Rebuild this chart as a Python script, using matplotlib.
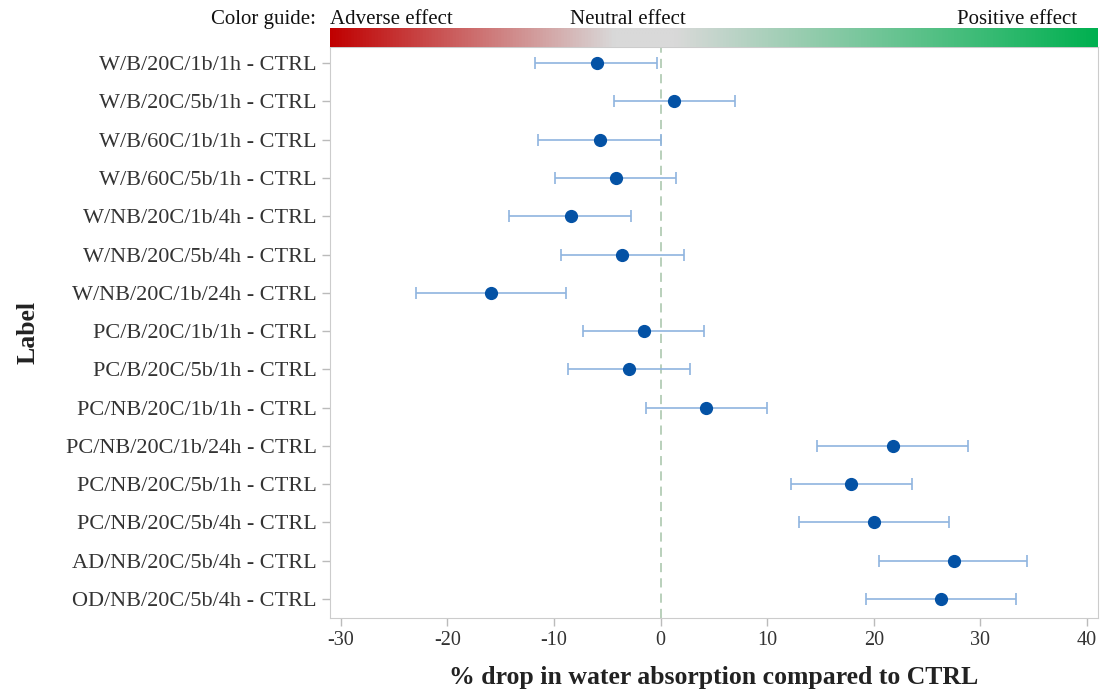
import numpy as np
import matplotlib
matplotlib.use("Agg")
import matplotlib.pyplot as plt
from matplotlib.colors import LinearSegmentedColormap

# data
labels = [
    "W/B/20C/1b/1h - CTRL",
    "W/B/20C/5b/1h - CTRL",
    "W/B/60C/1b/1h - CTRL",
    "W/B/60C/5b/1h - CTRL",
    "W/NB/20C/1b/4h - CTRL",
    "W/NB/20C/5b/4h - CTRL",
    "W/NB/20C/1b/24h - CTRL",
    "PC/B/20C/1b/1h - CTRL",
    "PC/B/20C/5b/1h - CTRL",
    "PC/NB/20C/1b/1h - CTRL",
    "PC/NB/20C/1b/24h - CTRL",
    "PC/NB/20C/5b/1h - CTRL",
    "PC/NB/20C/5b/4h - CTRL",
    "AD/NB/20C/5b/4h - CTRL",
    "OD/NB/20C/5b/4h - CTRL",
]
estimate = [-6.0, 1.3, -5.7, -4.2, -8.4, -3.6, -15.9, -1.6, -3.0, 4.3, 21.8, 17.9, 20.0, 27.5, 26.3]
lower = [-11.8, -4.4, -11.5, -9.9, -14.2, -9.3, -22.9, -7.3, -8.7, -1.4, 14.7, 12.2, 13.0, 20.5, 19.3]
upper = [-0.3, 7.0, 0.0, 1.4, -2.8, 2.2, -8.9, 4.1, 2.8, 10.0, 28.8, 23.6, 27.0, 34.4, 33.3]
xticks = [-30, -20, -10, 0, 10, 20, 30, 40]

plt.rcParams['font.family'] = ['Liberation Serif', 'DejaVu Serif']

fig = plt.figure(figsize=(11, 6.93), dpi=100)
ax = fig.add_axes([0.3, 0.108, 0.698, 0.824])
cax = fig.add_axes([0.3, 0.932, 0.698, 0.028])

est = np.array(estimate)
lo = np.array(lower)
hi = np.array(upper)
y = np.arange(len(labels))

ax.axvline(0, color='#a6c4a8', linestyle=(0, (6, 4)), linewidth=1.1, zorder=1)
ax.errorbar(est, y, xerr=[est - lo, hi - est], fmt='o', color='#0452a5',
            ecolor='#8fb4df', elinewidth=1.2, capsize=4, capthick=1.2,
            markersize=8.5, zorder=3)

ax.set_xlim(-31, 41)
ax.set_ylim(len(labels) - 0.5, -0.42)
ax.set_yticks(y)
ax.set_yticklabels(labels, fontsize=16, color='#333333')
ax.set_xticks(xticks)
ax.set_xticklabels([str(t) for t in xticks], fontsize=14.5, color='#333333')
ax.tick_params(axis='both', colors='#bbbbbb', length=6, width=1, labelcolor='#333333')
for s in ax.spines.values():
    s.set_color('#cccccc')
ax.set_xlabel('% drop in water absorption compared to CTRL', fontsize=18.5,
              fontweight='bold', labelpad=11, color='#222222')
ax.set_ylabel('Label', fontsize=18.5, fontweight='bold', color='#222222')
ax.yaxis.set_label_coords(-0.378, 0.5)

# colour guide bar
cmap = LinearSegmentedColormap.from_list(
    'guide', [(0, '#c00000'), (0.37, '#d9d9d9'), (0.45, '#d9d9d9'), (1, '#00b050')])
cax.imshow(np.linspace(0, 1, 512)[None, :], aspect='auto', cmap=cmap,
           extent=[0, 1, 0, 1])
cax.set_axis_off()
fig.text(0.2875, 0.972, 'Color guide:', ha='right', va='center', fontsize=15, color='#111111')
fig.text(0.3, 0.972, 'Adverse effect', ha='left', va='center', fontsize=15, color='#111111')
fig.text(0.571, 0.972, 'Neutral effect', ha='center', va='center', fontsize=15, color='#111111')
fig.text(0.979, 0.972, 'Positive effect', ha='right', va='center', fontsize=15, color='#111111')

fig.savefig('out.png', dpi=100)
